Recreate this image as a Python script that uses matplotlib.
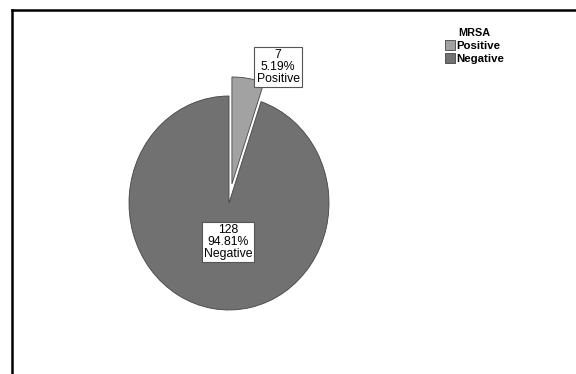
import matplotlib
matplotlib.use("Agg")
import matplotlib.pyplot as plt
from matplotlib.lines import Line2D
import numpy as np

plt.rcParams['font.family'] = ['Liberation Sans', 'DejaVu Sans']

# data
categories = ['Positive', 'Negative']
counts = [7, 128]
colors = ['#a2a2a2', '#717171']
legend_title = 'MRSA'

W, H = 576, 374
fig = plt.figure(figsize=(W/100, H/100), dpi=100)

# pie centre / radii in pixels (slightly stretched vertically)
cx, cy, rx, ry = 229, 203, 100, 107
ax = fig.add_axes([0, 0, 1, 1])
total = sum(counts)
wedges, _ = ax.pie(counts, colors=colors, startangle=90, counterclock=False,
                   explode=[0.18, 0], wedgeprops={'edgecolor': '#444444', 'linewidth': 0.6})
ax.set_aspect('auto')
ax.set_xlim((0-cx)/rx, (W-cx)/rx)
ax.set_ylim(-(H-cy)/ry, cy/ry)
ax.axis('off')

# label boxes (pixel positions of the box centres)
label_pos = [(278, 67), (228, 242)]
for (px, py), n, name in zip(label_pos, counts, categories):
	pct = 100.0*n/total
	ax.text((px-cx)/rx, (cy-py)/ry, f"{n}\n{pct:.2f}%\n{name}", ha='center', va='center',
		fontsize=8.8, linespacing=1.0,
		bbox=dict(boxstyle='square,pad=0.18', facecolor='white', edgecolor='#555555', linewidth=0.8))

# legend
leg = fig.legend(wedges, categories, title=legend_title, loc='upper left',
	bbox_to_anchor=(437/W, 1-20/H), frameon=False, fontsize=8.2,
	title_fontproperties={'weight': 'bold', 'size': 7.8},
	handlelength=0.9, handleheight=0.9, handletextpad=0.1, labelspacing=0.2, borderpad=0.2)
for t in leg.get_texts():
	t.set_fontweight('bold')

# outer frame (left and top edges only visible)
fig.add_artist(Line2D([12/W, 12/W], [0, 1-10/H], color='black', linewidth=1.8, transform=fig.transFigure))
fig.add_artist(Line2D([12/W, 1], [1-10/H, 1-10/H], color='black', linewidth=1.8, transform=fig.transFigure))

plt.savefig('out.png', dpi=100)
